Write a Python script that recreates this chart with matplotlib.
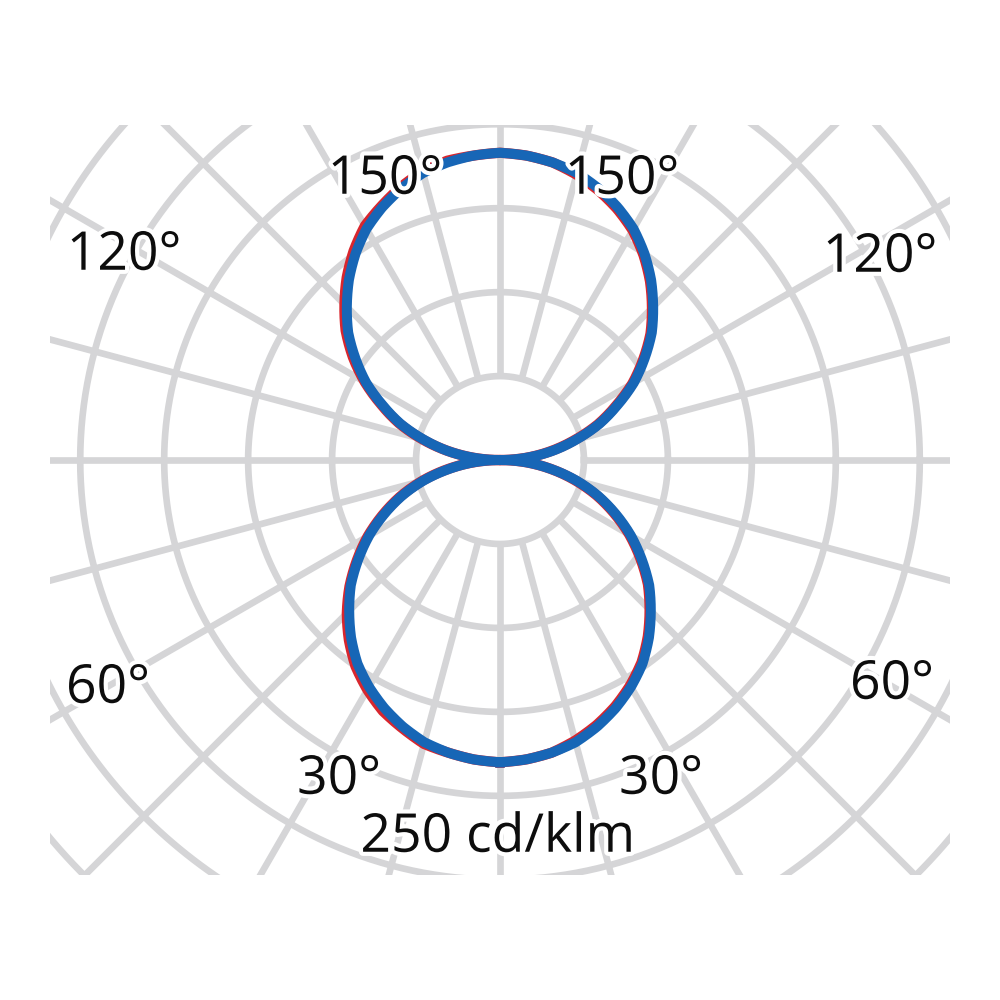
import numpy as np
import matplotlib.pyplot as plt
import matplotlib.patheffects as pe

# light distribution curve, gamma angle from nadir (deg)
gamma = [0, 5, 10, 15, 20, 25, 30, 35, 40, 45, 50, 55, 60, 65, 70, 75, 80, 85, 90,
         95, 100, 105, 110, 115, 120, 125, 130, 135, 140, 145, 150, 155, 160, 165, 170, 175, 180]

# C0-C180 plane (blue), cd/klm
i_c0_c180 = [180, 179, 177, 174, 169, 163, 156, 148, 138, 127, 116, 103, 90, 76, 62, 47, 31, 16, 0,
             16, 32, 47, 63, 77, 92, 105, 118, 129, 140, 150, 159, 166, 172, 177, 180, 182, 183]

# C90-C270 plane (red), nearly hidden under the blue one
i_c90 = [180, 179, 177, 173, 168, 162, 155, 147, 137, 126, 115, 102, 89, 75, 61, 46, 31, 16, 0,
         16, 31, 46, 62, 76, 91, 104, 117, 128, 139, 149, 158, 165, 171, 176, 180, 182, 183]
i_c270 = [180, 179, 177, 175, 170, 165, 158, 150, 140, 129, 117, 104, 91, 77, 63, 48, 32, 16, 0,
          16, 32, 48, 64, 78, 93, 107, 120, 131, 142, 152, 161, 167, 173, 178, 181, 182, 183]

ring_values = [50, 100, 150, 200, 250, 300, 350, 400]
spoke_angles = list(range(0, 360, 15))

grid_color = '#d5d5d7'
blue = '#1766b6'
red = '#d8262e'


def to_xy(angles, right, left):
    # draw like a polar plot: r changes linearly with the angle between samples
    g_fine = np.linspace(angles[0], angles[-1], 721)
    r1 = np.interp(g_fine, angles, right)
    r2 = np.interp(g_fine, angles, left)
    g = np.radians(g_fine)
    x = np.concatenate([r1 * np.sin(g), (-r2 * np.sin(g))[::-1]])
    y = np.concatenate([-r1 * np.cos(g), (-r2 * np.cos(g))[::-1]])
    return x, y


fig = plt.figure(figsize=(10, 10), dpi=100)
ax = fig.add_axes([0.05, 0.125, 0.90, 0.75])
ax.set_xlim(-268, 268)
ax.set_ylim(-247, 199.4)
ax.set_aspect('equal')
ax.axis('off')

# grid: rings and spokes (clipped by the axes box)
t = np.linspace(0, 2 * np.pi, 721)
for r in ring_values:
    ax.plot(r * np.cos(t), r * np.sin(t), color=grid_color, lw=4.8, zorder=1)
for a in spoke_angles:
    ar = np.radians(a)
    ax.plot([50 * np.cos(ar), 600 * np.cos(ar)], [50 * np.sin(ar), 600 * np.sin(ar)],
            color=grid_color, lw=4.8, zorder=1, solid_capstyle='butt')

xr, yr = to_xy(gamma, i_c90, i_c270)
ax.plot(xr, yr, color=red, lw=7.4, zorder=2)
xb, yb = to_xy(gamma, i_c0_c180, i_c0_c180)
ax.plot(xb, yb, color=blue, lw=7.2, zorder=3)

halo = [pe.withStroke(linewidth=6, foreground='white')]
font = dict(family=['Open Sans', 'DejaVu Sans'], fontsize=38.5, color='#0d0d0d',
            ha='center', va='center', path_effects=halo)

labels = [
    ('150°', 385, 180), ('150°', 622, 180),
    ('120°', 124, 256), ('120°', 880, 258),
    ('60°', 108, 689), ('60°', 892, 685),
    ('30°', 339, 780), ('30°', 661, 780),
    ('250 cd/klm', 498, 838),
]
for txt, px, py in labels:
    fig.text(px / 1000, 1 - py / 1000, txt, **font)

fig.savefig('out.png', dpi=100, facecolor='white')
